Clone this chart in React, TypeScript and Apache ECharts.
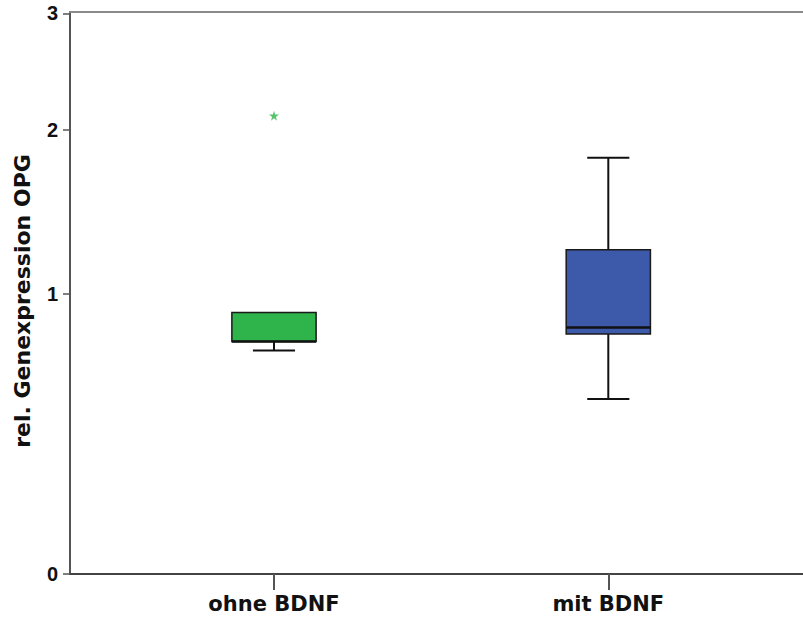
import React, { useEffect, useRef } from "react";
import * as echarts from "echarts";

// Data
const categories = ["ohne BDNF", "mit BDNF"];
const positions = [1, 2];
const whiskerLow = [0.738, 0.542];
const quartile1 = [0.777, 0.81];
const medians = [0.777, 0.84];
const quartile3 = [0.909, 1.23];
const whiskerHigh = [0.909, 1.8];
const boxColors = ["#2fb34b", "#3d59aa"];
const outlierPositions = [1];
const outlierValues = [2.107];
const yTickValues = [0, 1, 2, 3];

const t = (v: number) => Math.log(v + 1);

const BOX_WIDTH = 0.252; // in x data units
const STAR =
  "path://M50,0 L61,35 L98,35 L68,57 L79,91 L50,70 L21,91 L32,57 L2,35 L39,35 Z";

export default function App() {
  const ref = useRef<HTMLDivElement>(null);
  useEffect(() => {
    if (!ref.current) return;
    const chart = echarts.init(ref.current, undefined, { renderer: "svg" });
    const boxData = categories.map((_, i) => [
      positions[i],
      t(whiskerLow[i]),
      t(quartile1[i]),
      t(medians[i]),
      t(quartile3[i]),
      t(whiskerHigh[i]),
    ]);
    const font = "'Liberation Sans', Arial, sans-serif";
    const wideFont = "'DejaVu Sans', 'Liberation Sans', sans-serif";
    chart.setOption({
      animation: false,
      backgroundColor: "#ffffff",
      grid: { left: 70, right: 0, top: 12, bottom: 43, containLabel: false, outerBoundsMode: "none" },
      xAxis: [
        {
          type: "value",
          min: 0.3898,
          max: 2.5824,
          splitLine: { show: false },
          axisLine: { show: true, lineStyle: { color: "#444", width: 2 } },
          axisTick: {
            show: true,
            customValues: positions,
            length: 16,
            lineStyle: { color: "#555", width: 2 },
          },
          axisLabel: {
            show: true,
            customValues: positions,
            margin: 19,
            formatter: (v: number) => categories[positions.indexOf(Math.round(v))] ?? "",
            fontFamily: wideFont,
            fontWeight: "bold",
            fontSize: 21,
            color: "#111",
          },
        },
        {
          type: "value",
          position: "top",
          min: 0.3898,
          max: 2.5824,
          splitLine: { show: false },
          axisLine: { show: true, onZero: false, lineStyle: { color: "#8a8a8a", width: 2 } },
          axisTick: { show: false },
          axisLabel: { show: false },
        },
      ],
      yAxis: {
        type: "value",
        min: 0,
        max: 1.39,
        name: "rel. Genexpression OPG",
        nameLocation: "middle",
        nameRotate: 90,
        nameGap: 37,
        nameTextStyle: {
          fontFamily: wideFont,
          fontWeight: "bold",
          fontSize: 22,
          color: "#111",
          padding: [0, 16, 0, 0],
        },
        splitLine: { show: false },
        axisLine: { show: true, lineStyle: { color: "#555", width: 2 } },
        axisTick: {
          show: true,
          customValues: yTickValues.map(t),
          length: 7,
          lineStyle: { color: "#555", width: 1.5 },
        },
        axisLabel: {
          show: true,
          customValues: yTickValues.map(t),
          margin: 12,
          formatter: (v: number) => String(Math.round(Math.exp(v) - 1)),
          fontFamily: font,
          fontWeight: "bold",
          fontSize: 20,
          color: "#111",
        },
      },
      series: [
        {
          type: "custom",
          data: boxData,
          encode: { x: 0, y: [1, 2, 3, 4, 5] },
          renderItem: (params: any, api: any) => {
            const x = api.value(0);
            const lo = api.coord([x, api.value(1)]);
            const q1 = api.coord([x, api.value(2)]);
            const med = api.coord([x, api.value(3)]);
            const q3 = api.coord([x, api.value(4)]);
            const hi = api.coord([x, api.value(5)]);
            const w = api.size([BOX_WIDTH, 0])[0];
            const cx = lo[0];
            const lineStyle = { stroke: "#111", lineWidth: 2 };
            const children: any[] = [];
            if (q3[1] - hi[1] > 0.5) {
              children.push({
                type: "line",
                shape: { x1: cx, y1: hi[1], x2: cx, y2: q3[1] },
                style: lineStyle,
              });
              children.push({
                type: "line",
                shape: { x1: cx - w / 4, y1: hi[1], x2: cx + w / 4, y2: hi[1] },
                style: lineStyle,
              });
            }
            if (lo[1] - q1[1] > 0.5) {
              children.push({
                type: "line",
                shape: { x1: cx, y1: q1[1], x2: cx, y2: lo[1] },
                style: lineStyle,
              });
              children.push({
                type: "line",
                shape: { x1: cx - w / 4, y1: lo[1], x2: cx + w / 4, y2: lo[1] },
                style: lineStyle,
              });
            }
            children.push({
              type: "rect",
              shape: { x: cx - w / 2, y: q3[1], width: w, height: q1[1] - q3[1] },
              style: { fill: boxColors[params.dataIndex], stroke: "#1a1a1a", lineWidth: 1.5 },
            });
            children.push({
              type: "line",
              shape: { x1: cx - w / 2, y1: med[1], x2: cx + w / 2, y2: med[1] },
              style: { stroke: "#111", lineWidth: 2.5 },
            });
            return { type: "group", children };
          },
        },
        {
          type: "scatter",
          symbol: STAR,
          symbolSize: 10,
          itemStyle: { color: boxColors[0] },
          data: outlierPositions.map((p, i) => [p, t(outlierValues[i])]),
        },
      ],
    });
    return () => chart.dispose();
  }, []);
  return (
    <div
      ref={ref}
      style={{ position: "fixed", left: 0, top: 0, width: 803, height: 617 }}
    />
  );
}
